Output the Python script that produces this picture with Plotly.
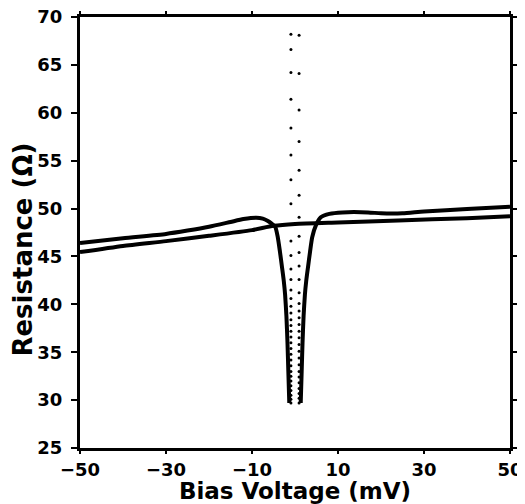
import plotly.graph_objects as go

# straight-ish background curve
flat_v = [-50, -40, -30, -20, -10, -5, 0, 10, 24, 40, 50]
flat_r = [45.45, 46.1, 46.6, 47.15, 47.75, 48.2, 48.4, 48.55, 48.75, 49.0, 49.2]

# curve with the zero-bias dip (two branches, gap at the bottom)
dip_left_v = [-50, -40, -30, -25, -20, -15, -12, -9, -7.5, -6.3, -5.5, -4.6,
              -4.0, -3.5, -3.0, -2.6, -2.3, -2.0, -1.75, -1.55, -1.33]
dip_left_r = [46.4, 46.9, 47.35, 47.7, 48.1, 48.6, 48.9, 49.05, 48.95, 48.7,
              48.45, 48.1, 47.0, 45.5, 43.8, 42.4, 41.0, 38.8, 36.0, 33.0, 29.7]
dip_right_v = [1.33, 1.55, 1.75, 2.0, 2.3, 2.6, 3.0, 3.5, 4.0, 4.9, 6.0, 8.0,
               11, 17, 20, 25, 30, 40, 50]
dip_right_r = [29.7, 33.0, 36.0, 38.8, 41.0, 42.4, 43.8, 45.5, 47.0, 48.3,
               49.1, 49.45, 49.6, 49.6, 49.5, 49.5, 49.7, 49.95, 50.2]

# dotted curve (read dot by dot)
dots_left_v = [-0.95] * 33
dots_left_r = [68.2, 66.6, 64.2, 61.4, 58.4, 55.6, 53.0, 50.5, 46.6, 45.1,
               43.7, 42.6, 41.5, 40.6, 39.8, 39.1, 38.4, 37.8, 37.2, 36.6,
               36.0, 35.4, 34.8, 34.2, 33.6, 33.0, 32.5, 32.0, 31.5, 31.0,
               30.5, 30.1, 29.7]
dots_right_v = [0.95] * 29
dots_right_r = [68.1, 64.1, 60.3, 57.0, 54.0, 51.4, 49.1, 47.1, 45.4, 44.0,
                42.6, 41.2, 40.1, 39.3, 38.6, 37.9, 37.2, 36.5, 35.8, 35.1,
                34.4, 33.7, 33.0, 32.4, 31.8, 31.2, 30.7, 30.2, 29.7]

x_ticks = [-50, -30, -10, 10, 30, 50]
y_ticks = [25, 30, 35, 40, 45, 50, 55, 60, 65, 70]

fig = go.Figure()
line = dict(color="black", width=4, shape="spline", smoothing=0.6)
fig.add_trace(go.Scatter(x=flat_v, y=flat_r, mode="lines", line=line))
fig.add_trace(go.Scatter(x=dip_left_v, y=dip_left_r, mode="lines", line=line))
fig.add_trace(go.Scatter(x=dip_right_v, y=dip_right_r, mode="lines", line=line))
fig.add_trace(go.Scatter(x=dots_left_v + dots_right_v,
                         y=dots_left_r + dots_right_r, mode="markers",
                         marker=dict(color="black", size=3)))

tick_font = dict(family="DejaVu Sans", size=18, color="black", weight="bold")
axis = dict(showline=True, linewidth=3, linecolor="black", mirror="ticks",
            ticks="outside", tickwidth=2, tickcolor="black", automargin=False,
            showgrid=False, zeroline=False, tickfont=tick_font,
            ticklabeloverflow="allow")

fig.update_xaxes(range=[-50, 50], tickvals=x_ticks, ticklen=3,
                 title=dict(text="Bias Voltage (mV)", standoff=0,
                            font=dict(family="DejaVu Sans", size=23,
                                      color="black", weight="bold")),
                 **axis)
fig.update_yaxes(range=[25, 70], tickvals=y_ticks, ticklen=6,
                 ticklabelstandoff=5, **axis)
# y title as an annotation: it sits a little below the axis centre
fig.add_annotation(text="Resistance (Ω)", xref="paper", yref="paper",
                   x=-0.133, y=0.46, xanchor="center", yanchor="middle",
                   textangle=-90, showarrow=False,
                   font=dict(family="DejaVu Sans", size=26, color="black",
                             weight="bold"))
# the page body adds an 8px margin, so the figure is 8px smaller each way
fig.update_layout(width=517, height=496, showlegend=False,
                  plot_bgcolor="white", paper_bgcolor="white",
                  margin=dict(l=72, r=15, t=9, b=56))
fig.write_html("out.html")
